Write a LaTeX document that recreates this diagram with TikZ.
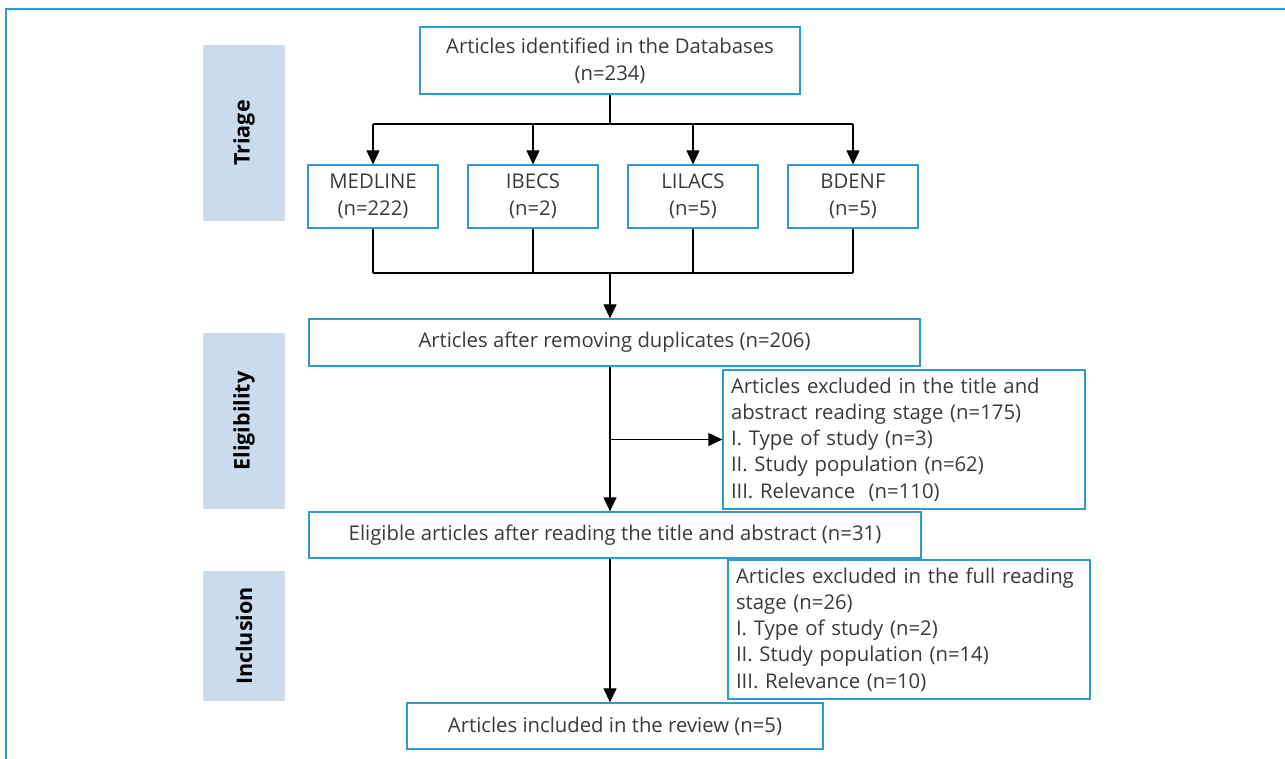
\documentclass[tikz,border=0pt]{standalone}
\usepackage{fontspec}
\setmainfont{Open Sans}
\usepackage{tikz}
\usetikzlibrary{shapes,arrows.meta,calc}

\definecolor{frameblue}{HTML}{2E9AD0}
\definecolor{phaseblue}{HTML}{CADCEC}
\definecolor{textgray}{HTML}{3A3A3A}

\begin{document}
\begin{tikzpicture}[
        %We set the scale (1 unit = 1 pixel of the page) and define some styles
        x=1pt, y=-1pt,
        frame line/.style={frameblue, line width=2pt},
        box/.style={draw=frameblue, line width=1.3pt, fill=white, text=textgray,
            align=center, inner sep=0pt, font=\fontsize{20.3}{27}\selectfont},
        list box/.style={box, align=left, inner xsep=8pt, inner ysep=2pt,
            font=\fontsize{20.3}{26.3}\selectfont},
        phase/.style={fill=phaseblue, minimum width=82pt, text=black,
            font=\fontsize{21.5}{24}\selectfont\bfseries},
        link/.style={line width=1.2pt, black},
        arr/.style={link, -{Triangle[length=14pt, width=13pt]}}
     ]
    % page size and outer frame
    \useasboundingbox (0,0) rectangle (1285,758);
    \draw[frame line] (6,775) -- (6,9) -- (1300,9);

    % the three phases on the left
    \node[phase, minimum height=176pt] (triage) at (244,133)
        {\rotatebox{90}{Triage}};
    \node[phase, minimum height=176pt] (eligibility) at (244,421)
        {\rotatebox{90}{Eligibility}};
    \node[phase, minimum height=130pt] (inclusion) at (244,636)
        {\rotatebox{90}{Inclusion}};

    % boxes of the flow
    \node[box, minimum width=380pt, minimum height=67pt] (identified) at (610,60.5)
        {Articles identified in the Databases\\(n=234)};
    \node[box, minimum width=130pt, minimum height=63pt] (medline) at (373,196.5)
        {MEDLINE\\(n=222)};
    \node[box, minimum width=130pt, minimum height=63pt] (ibecs) at (533,196.5)
        {IBECS\\(n=2)};
    \node[box, minimum width=130pt, minimum height=63pt] (lilacs) at (693,196.5)
        {LILACS\\(n=5)};
    \node[box, minimum width=130pt, minimum height=63pt] (bdenf) at (853,196.5)
        {BDENF\\(n=5)};
    \node[box, minimum width=611pt, minimum height=47pt] (duplicates) at (614.5,342.5)
        {Articles after removing duplicates (n=206)};
    \node[list box, text width=346pt, minimum height=139pt] (excluded1) at (904,439.5)
        {Articles excluded in the title and\\
         abstract reading stage (n=175)\\
         I. Type of study (n=3)\\
         II. Study population (n=62)\\
         III. Relevance\ \ (n=110)};
    \node[box, minimum width=612pt, minimum height=46pt] (eligible) at (615,535)
        {Eligible articles after reading the title and abstract (n=31)};
    \node[list box, text width=346pt, minimum height=139pt] (excluded2) at (909,629.5)
        {Articles excluded in the full reading\\
         stage (n=26)\\
         I. Type of study (n=2)\\
         II. Study population (n=14)\\
         III. Relevance (n=10)};
    \node[box, minimum width=416pt, minimum height=46pt] (included) at (615,726)
        {Articles included in the review (n=5)};

    % split towards the databases
    \coordinate (split) at (610,124);
    \coordinate (merge) at (610,273);
    \draw[link] (identified.south) -- (split);
    \draw[link] (medline |- split) -- (bdenf |- split);
    \foreach \db in {medline,ibecs,lilacs,bdenf}{
        \draw[arr] (\db |- split) -- (\db.north);
        \draw[link] (\db.south) -- (\db |- merge);
    }
    \draw[link] (medline |- merge) -- (bdenf |- merge);

    % main line downwards
    \draw[arr] (merge) -- (merge |- duplicates.north);
    \draw[arr] (merge |- duplicates.south) -- (merge |- eligible.north);
    \draw[arr] (merge |- excluded1.west) -- (excluded1.west);
    \draw[arr] (merge |- eligible.south) -- (merge |- included.north);
\end{tikzpicture}
\end{document}
